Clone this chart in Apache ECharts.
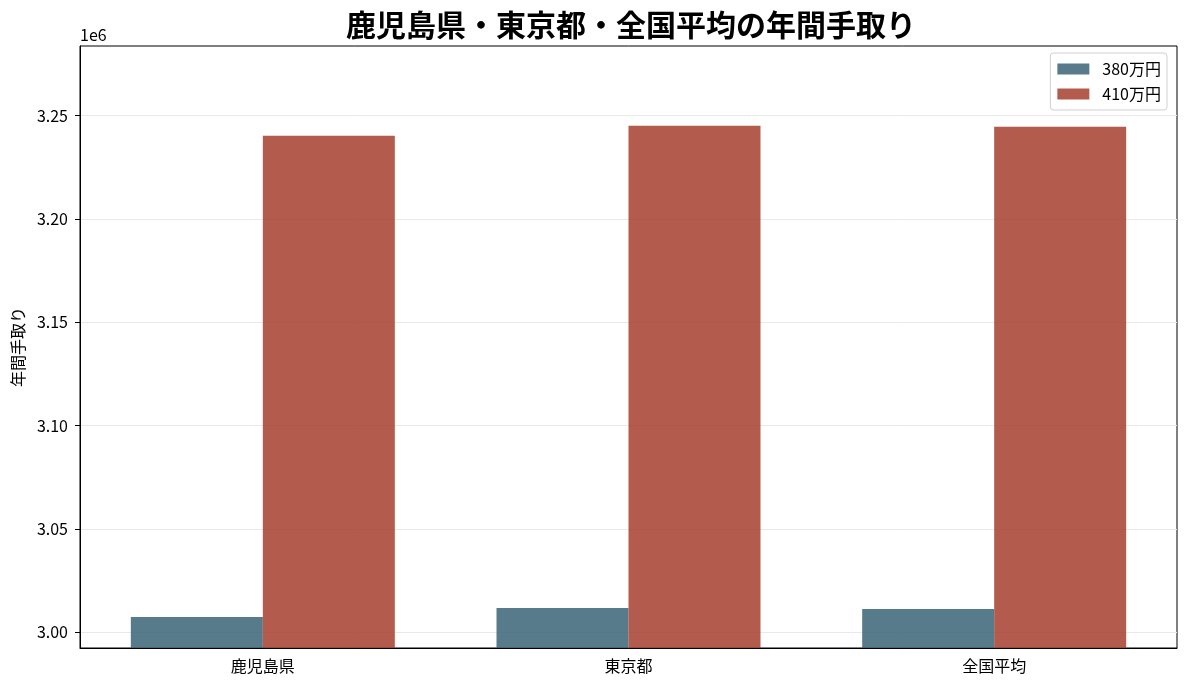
<!DOCTYPE html>
<html>
<head>
<meta charset="utf-8">
<script src="https://cdn.jsdelivr.net/npm/echarts@6/dist/echarts.min.js"></script>
<style>
html,body{margin:0;padding:0;background:#fff;}
#chart{width:1188px;height:689px;}
</style>
</head>
<body>
<div id="chart"></div>
<script>
const categories = ['鹿児島県', '東京都', '全国平均'];
const seriesNames = ['380万円', '410万円'];
const values380 = [3007400, 3011800, 3011300];
const values410 = [3240300, 3245200, 3244700];
const yTicks = [3000000, 3050000, 3100000, 3150000, 3200000, 3250000];
const yMin = 2992400;
const yMax = 3283750;

const FONT = '"Noto Sans CJK JP", "Noto Sans", sans-serif';
const chart = echarts.init(document.getElementById('chart'));
chart.setOption({
  animation: false,
  backgroundColor: '#fff',
  title: {
    text: '鹿児島県・東京都・全国平均の年間手取り',
    left: 626, top: 5, textAlign: 'center',
    textStyle: {fontFamily: FONT, fontSize: 30, fontWeight: 'bold', color: '#000'}
  },
  graphic: [{
    type: 'text', left: 80, top: 27,
    style: {text: '1e6', font: '16px ' + FONT, fill: '#000'}
  }],
  legend: {
    right: 21, top: 53, orient: 'vertical',
    itemWidth: 32, itemHeight: 11, itemGap: 9,
    padding: [8, 6, 8, 7],
    borderColor: '#d0d0d0', borderWidth: 1, borderRadius: 3,
    backgroundColor: 'rgba(255,255,255,0.8)',
    textStyle: {fontFamily: FONT, fontSize: 16, lineHeight: 16, color: '#000', padding: [0, 0, 0, 8]},
    icon: 'rect',
    data: seriesNames
  },
  grid: {left: 80, right: 11, top: 46, bottom: 41, show: true, borderColor: '#000', borderWidth: 1,
         containLabel: false, outerBoundsMode: 'none'},
  xAxis: {
    type: 'category', data: categories,
    axisLine: {lineStyle: {color: '#000', width: 1}},
    axisTick: {alignWithLabel: true, length: 5, lineStyle: {color: '#000'}},
    axisLabel: {fontFamily: FONT, fontSize: 16, color: '#000', margin: 10}
  },
  yAxis: {
    type: 'value', min: yMin, max: yMax,
    name: '年間手取り', nameLocation: 'middle', nameGap: 54,
    nameTextStyle: {fontFamily: FONT, fontSize: 16, color: '#000'},
    axisLine: {show: true, lineStyle: {color: '#000', width: 1}},
    axisTick: {show: true, length: 5, lineStyle: {color: '#000'}, customValues: yTicks},
    axisLabel: {
      fontFamily: FONT, fontSize: 16, color: '#000', margin: 12,
      customValues: yTicks,
      formatter: v => (v / 1e6).toFixed(2)
    },
    splitLine: {show: true, lineStyle: {color: '#e9e9e9', width: 1}}
  },
  series: [
    {name: seriesNames[0], type: 'bar', data: values380, barWidth: 132, barGap: '0%',
     itemStyle: {color: 'rgb(59,100,120)', opacity: 0.85}},
    {name: seriesNames[1], type: 'bar', data: values410, barWidth: 132, barGap: '0%',
     itemStyle: {color: 'rgb(166,64,47)', opacity: 0.85}}
  ]
});
</script>
</body>
</html>
